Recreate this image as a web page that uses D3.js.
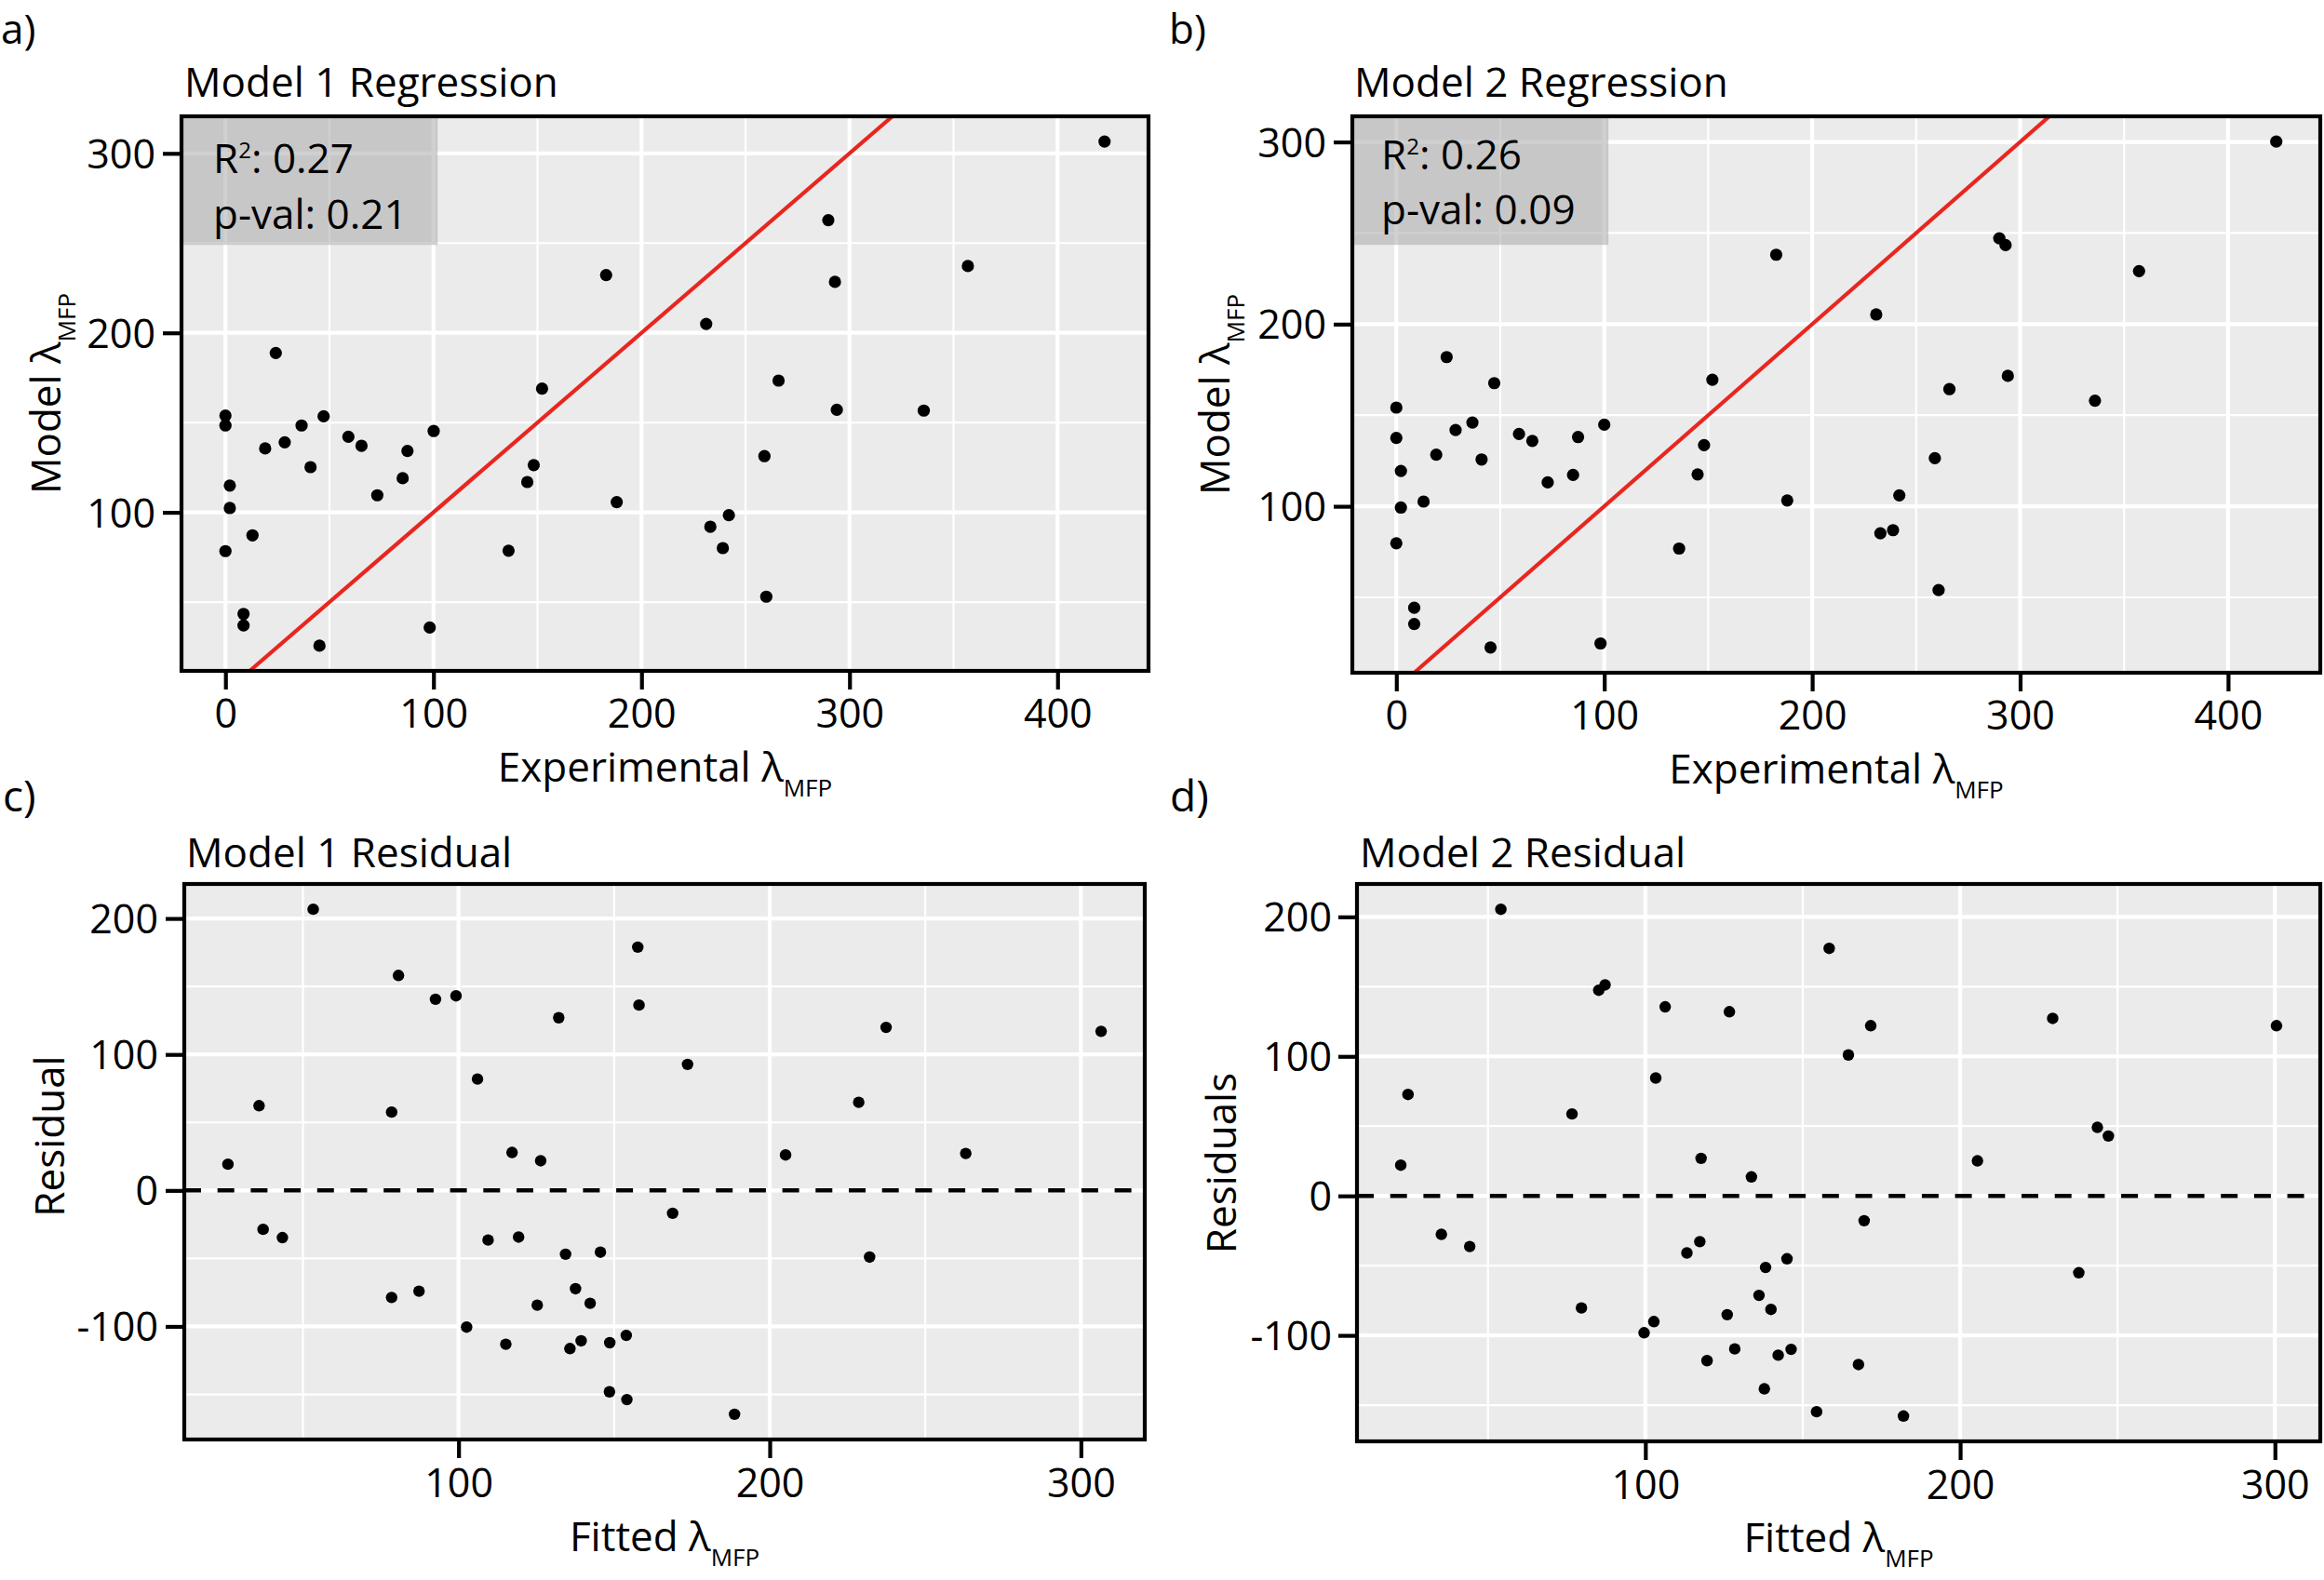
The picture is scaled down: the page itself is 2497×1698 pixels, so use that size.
<!DOCTYPE html>
<html><head><meta charset="utf-8">
<script src="https://cdn.jsdelivr.net/npm/d3@7"></script>
<style>
body{margin:0;background:#fff}
svg{display:block}
text{font-family:'Open Sans',sans-serif;fill:#000}
</style>
</head><body>
<svg id="fig" width="2497" height="1698"></svg>
<script>
// ---------- DATA ----------
const m1Exp   = [0,0,2.1,2.1,0,13,8.7,8.7,19.1,24.2,28.5,36.6,40.9,47.2,45.2,59.1,65.4,73,85.2,87.5,100.1,98.2,136.1,145.1,148.2,152.2,183,188.1,422.6,289.8,293,356.9,231.1,265.9,293.9,335.7,259.1,242,233.1,239.1,260];
const m1Model = [153.9,148.4,114.9,102.4,78.4,87.2,43.4,37,135.6,188.8,139,148.4,125.2,153.5,25.7,142.1,137.1,109.5,119,134.2,145.3,35.8,78.6,116.9,126.3,168.9,232.2,105.7,306.6,262.8,228.4,237.2,205,173.4,157.1,156.7,131.3,98.4,92,80.1,53];
const m2Exp   = [0,0,2.2,2.2,0,13.1,8.6,8.6,19.2,24.2,28.5,36.6,41,47.1,45.3,59,65.4,72.8,85,87.4,100,98.2,136,144.9,148,152,182.7,188,423.2,290,293,357.2,230.8,266,294.1,336,259,241.9,238.9,232.8,260.8];
const m2Model = [154.2,137.5,119.4,99.3,79.7,102.6,44.3,35.4,128.3,181.9,141.9,146,125.7,167.6,22.5,139.7,135.9,113.1,117.2,138,144.8,24.7,76.8,117.5,133.6,169.5,238.1,103.2,300.2,247.1,243.4,229.1,205.3,164.3,171.6,158,126.4,106,86.9,85.2,54];

const m1Fitted = [53.3,25.9,35.9,37.2,43.4,80.7,92.6,99.2,78.5,78.5,87.3,106.1,102.6,109.5,115.2,117.2,119.3,126.4,125.3,132.2,134.4,137.6,135.8,139.4,142.3,145.6,148.6,148.5,153.9,154.1,157.6,158,168.8,173.6,188.7,205.1,228.6,232.1,237.4,263,306.5];
const m1Resid  = [206.8,19.3,62.3,-28.6,-34.7,158.1,140.6,143.1,57.6,-78.7,-74.1,81.9,-100.5,-36.5,-113.1,27.9,-34.3,21.8,-84.4,127,-46.9,-72.3,-116.3,-110.6,-83,-45.4,-112,-148.1,-106.6,-153.8,178.9,136.3,-16.8,92.7,-164.6,26.1,64.8,-49,119.9,27.2,117];
const m2Fitted = [54.1,22.3,24.6,35.2,44.2,76.7,79.7,85.2,87.2,99.6,102.7,103.3,106.3,113.2,117.3,117.7,119.6,126,126.7,128.4,133.7,136.1,138.2,139.9,137.8,142.2,145,146.3,154.4,158.4,171.6,164.5,169.5,167.7,182,205.5,229.4,237.7,243.6,247.1,300.5];
const m2Resid  = [205.4,22,72.7,-27.6,-36.3,58.7,-80.3,147.4,151.2,-98.1,-90.1,84.5,135.5,-40.9,-32.8,26.9,-118.1,-85.2,132,-109.7,13.6,-71.3,-51.3,-81.4,-138.3,-114.2,-45.1,-110,-154.7,177.4,122,101,-17.8,-120.9,-157.8,25.1,127.2,-55.1,49.1,42.9,122];

const regXTicks = [0,100,200,300,400], regXMinor = [50,150,250,350];
const regYTicks = [100,200,300],       regYMinor = [50,150,250];
const resXTicks = [100,200,300],       resXMinor = [50,150,250];
const resYTicks = [-100,0,100,200],    resYMinor = [-150,-50,50,150];

const panelLabels = ["a)","b)","c)","d)"];
const panelTitles = ["Model 1 Regression","Model 2 Regression","Model 1 Residual","Model 2 Residual"];
const r2Values = ["0.27","0.26"];
const pValues  = ["0.21","0.09"];
const boxXmax  = [102,102];      // stats box right edge (data units)
const boxYmin  = [249,243.5];    // stats box bottom edge (data units)

// ---------- DRAWING ----------
const svg = d3.select("#fig");
svg.append("rect").attr("width",2497).attr("height",1698).attr("fill","#fff");

function expand(arr){
  const [a,b] = d3.extent(arr); const r = b-a;
  return [a-0.05*r, b+0.05*r];
}

function drawPanel(cfg){
  const {L,R,T,B} = cfg.box;
  const x = d3.scaleLinear().domain(expand(cfg.xs)).range([L,R]);
  const y = d3.scaleLinear().domain(expand(cfg.ys)).range([B,T]);
  const g = svg.append("g");
  const clipId = "clip"+cfg.id;
  svg.append("clipPath").attr("id",clipId).append("rect")
    .attr("x",L).attr("y",T).attr("width",R-L).attr("height",B-T);

  g.append("rect").attr("x",L).attr("y",T).attr("width",R-L).attr("height",B-T).attr("fill","#ebebeb");

  // minor grid
  g.selectAll(".vminor").data(cfg.xMinor.filter(v=>v>x.domain()[0]&&v<x.domain()[1])).join("line")
    .attr("x1",d=>x(d)).attr("x2",d=>x(d)).attr("y1",T).attr("y2",B)
    .attr("stroke","#fff").attr("stroke-width",2.2);
  g.selectAll(".hminor").data(cfg.yMinor.filter(v=>v>y.domain()[0]&&v<y.domain()[1])).join("line")
    .attr("x1",L).attr("x2",R).attr("y1",d=>y(d)).attr("y2",d=>y(d))
    .attr("stroke","#fff").attr("stroke-width",2.2);
  // major grid
  g.selectAll(".vmajor").data(cfg.xTicks).join("line")
    .attr("x1",d=>x(d)).attr("x2",d=>x(d)).attr("y1",T).attr("y2",B)
    .attr("stroke","#fff").attr("stroke-width",4.2);
  g.selectAll(".hmajor").data(cfg.yTicks).join("line")
    .attr("x1",L).attr("x2",R).attr("y1",d=>y(d)).attr("y2",d=>y(d))
    .attr("stroke","#fff").attr("stroke-width",4.2);

  const inner = g.append("g").attr("clip-path",`url(#${clipId})`);

  if(cfg.type==="reg"){
    // stats box
    inner.append("rect")
      .attr("x",L).attr("y",T)
      .attr("width",x(cfg.boxXmax)-L).attr("height",y(cfg.boxYmin)-T)
      .attr("fill","#a9aaac").attr("fill-opacity",0.55);
    // identity line
    const lo = Math.max(x.domain()[0],y.domain()[0]);
    const hi = Math.min(x.domain()[1],y.domain()[1]);
    inner.append("path")
      .attr("d", d3.line().x(d=>x(d)).y(d=>y(d))([lo,hi]))
      .attr("stroke","#e8261f").attr("stroke-width",4.2).attr("fill","none");
  } else {
    inner.append("line")
      .attr("x1",L).attr("x2",R).attr("y1",y(0)).attr("y2",y(0))
      .attr("stroke","#000").attr("stroke-width",4.5)
      .attr("stroke-dasharray","18,17.7");
  }

  // points
  g.append("g").selectAll("circle").data(cfg.xs.map((v,i)=>[v,cfg.ys[i]])).join("circle")
    .attr("cx",d=>x(d[0])).attr("cy",d=>y(d[1])).attr("r",cfg.r).attr("fill","#000");

  // border
  g.append("rect").attr("x",L).attr("y",T).attr("width",R-L).attr("height",B-T)
    .attr("fill","none").attr("stroke","#000").attr("stroke-width",4.2);

  // axes
  const ya = g.append("g").attr("transform",`translate(${L},0)`)
    .call(d3.axisLeft(y).tickValues(cfg.yTicks).tickSize(20).tickPadding(cfg.yPad).tickFormat(d3.format("d")));
  const xa = g.append("g").attr("transform",`translate(0,${B})`)
    .call(d3.axisBottom(x).tickValues(cfg.xTicks).tickSize(20).tickPadding(cfg.xPad).tickFormat(d3.format("d")));
  [ya,xa].forEach(a=>{
    a.select(".domain").remove();
    a.selectAll(".tick line").attr("stroke","#000").attr("stroke-width",4.2);
    a.selectAll(".tick text").attr("font-size",43).attr("font-family","'Open Sans',sans-serif").attr("fill","#000");
  });
  ya.selectAll(".tick text").attr("dy","0.36em");
  ya.selectAll(".tick text").text(d=>String(d));

  // stats text
  if(cfg.type==="reg"){
    const t1 = g.append("text").attr("x",cfg.statX).attr("y",cfg.statY1).attr("font-size",44);
    t1.append("tspan").text("R");
    t1.append("tspan").attr("font-size",24).attr("dy",-16).text("2");
    t1.append("tspan").attr("dy",16).text(": "+cfg.r2);
    g.append("text").attr("x",cfg.statX).attr("y",cfg.statY2).attr("font-size",44).text("p-val: "+cfg.p);
  }

  // titles
  g.append("text").attr("x",cfg.titleX).attr("y",cfg.titleY).attr("font-size",44).text(cfg.title);
  g.append("text").attr("x",cfg.labX).attr("y",cfg.labY).attr("font-size",cfg.labSize).text(cfg.label);

  // x axis title
  const xt = g.append("text").attr("x",(L+R)/2).attr("y",cfg.xTitleY).attr("font-size",44).attr("text-anchor","middle");
  xt.append("tspan").text(cfg.xTitle);
  xt.append("tspan").attr("font-size",26).attr("dy",16).text("MFP");

  // y axis title
  const yt = g.append("text").attr("transform",`translate(${cfg.yTitleX},${cfg.yTitleCY}) rotate(-90)`)
    .attr("font-size",44).attr("text-anchor","middle");
  yt.append("tspan").text(cfg.yTitle);
  if(cfg.yTitleSub){ yt.append("tspan").attr("font-size",26).attr("dy",16).text(cfg.yTitleSub); }
}

drawPanel({id:"a",type:"reg",box:{L:195,R:1234,T:125,B:721},xs:m1Exp,ys:m1Model,
  xTicks:regXTicks,xMinor:regXMinor,yTicks:regYTicks,yMinor:regYMinor,r:6.6,
  yPad:8,xPad:10,boxXmax:boxXmax[0],boxYmin:boxYmin[0],r2:r2Values[0],p:pValues[0],
  statX:229,statY1:186,statY2:246,title:panelTitles[0],titleX:198,titleY:104,
  label:panelLabels[0],labX:1,labY:47,labSize:44,
  xTitle:"Experimental λ",xTitleY:840,yTitle:"Model λ",yTitleSub:"MFP",yTitleX:65,yTitleCY:423});

drawPanel({id:"b",type:"reg",box:{L:1453,R:2493,T:125,B:723},xs:m2Exp,ys:m2Model,
  xTicks:regXTicks,xMinor:regXMinor,yTicks:regYTicks,yMinor:regYMinor,r:6.6,
  yPad:8,xPad:10,boxXmax:boxXmax[1],boxYmin:boxYmin[1],r2:r2Values[1],p:pValues[1],
  statX:1484,statY1:182,statY2:241,title:panelTitles[1],titleX:1455,titleY:104,
  label:panelLabels[1],labX:1256,labY:47,labSize:44,
  xTitle:"Experimental λ",xTitleY:842,yTitle:"Model λ",yTitleSub:"MFP",yTitleX:1321,yTitleCY:424});

drawPanel({id:"c",type:"res",box:{L:198,R:1230,T:950,B:1547},xs:m1Fitted,ys:m1Resid,
  xTicks:resXTicks,xMinor:resXMinor,yTicks:resYTicks,yMinor:resYMinor,r:6.2,
  yPad:8,xPad:11,title:panelTitles[2],titleX:200,titleY:932,
  label:panelLabels[2],labX:3,labY:872,labSize:46,
  xTitle:"Fitted λ",xTitleY:1667,yTitle:"Residual",yTitleX:69,yTitleCY:1221});

drawPanel({id:"d",type:"res",box:{L:1458,R:2493,T:950,B:1549},xs:m2Fitted,ys:m2Resid,
  xTicks:resXTicks,xMinor:resXMinor,yTicks:resYTicks,yMinor:resYMinor,r:6.2,
  yPad:7,xPad:11,title:panelTitles[3],titleX:1461,titleY:932,
  label:panelLabels[3],labX:1257,labY:872,labSize:46,
  xTitle:"Fitted λ",xTitleY:1668,yTitle:"Residuals",yTitleX:1328,yTitleCY:1250});
</script>
</body></html>
